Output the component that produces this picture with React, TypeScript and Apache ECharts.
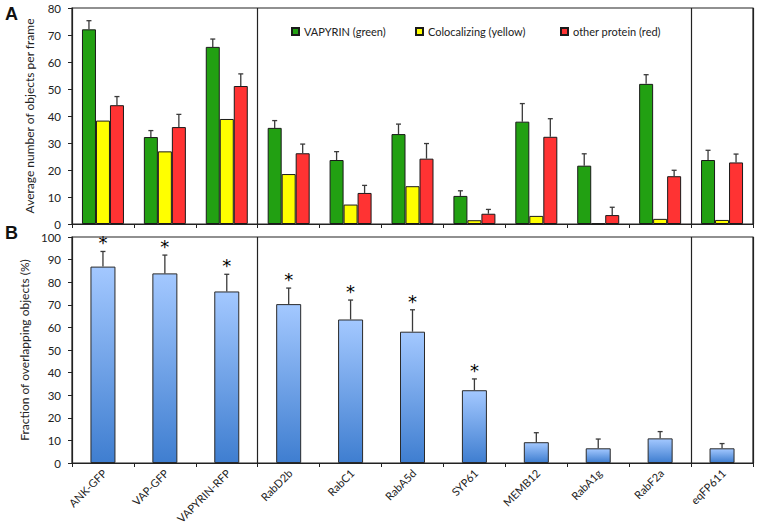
import React, { useEffect, useRef } from "react";
import * as echarts from "echarts";

const categories = ["ANK-GFP", "VAP-GFP", "VAPYRIN-RFP", "RabD2b", "RabC1", "RabA5d", "SYP61", "MEMB12", "RabA1g", "RabF2a", "eqFP611"];
const greenValues = [72.1, 32.2, 65.6, 35.6, 23.7, 33.3, 10.4, 37.9, 21.6, 51.9, 23.7];
const greenSd = [3.2, 2.4, 2.9, 2.7, 3.1, 3.7, 1.9, 6.7, 4.4, 3.4, 3.6];
const yellowValues = [38.3, 26.9, 38.9, 18.5, 7.2, 14.0, 1.4, 3.0, 0.2, 1.9, 1.5];
const redValues = [44.0, 35.9, 51.1, 26.2, 11.5, 24.2, 3.8, 32.3, 3.3, 17.7, 22.8];
const redSd = [3.2, 4.7, 4.5, 3.4, 2.8, 5.6, 1.6, 6.7, 2.9, 2.2, 3.1];
const fractionValues = [86.9, 83.9, 75.9, 70.3, 63.5, 58.1, 32.2, 9.2, 6.5, 10.9, 6.5];
const fractionSd = [6.7, 8.1, 7.6, 7.1, 8.6, 9.7, 5.0, 4.2, 4.1, 3.0, 2.1];
const significant = [true, true, true, true, true, true, true, false, false, false, false];
const seriesNames = ["VAPYRIN (green)", "Colocalizing (yellow)", "other protein (red)"];
const separatorBefore = [3, 10];

const FONT = "Lato";
const TEXT = "#222";
const AXIS = "#222";
const ERR = "#3a3a3a";
const BAR_W = 14;
const LABEL_SIZE = 11;

function errRender(offset: number, withStar: boolean) {
  return (params: any, api: any) => {
    const idx = api.value(0);
    const base = api.coord([idx, api.value(1)]);
    const top = api.coord([idx, api.value(2)]);
    const x = base[0] + offset;
    const children: any[] = [
      { type: "line", shape: { x1: x, y1: base[1], x2: x, y2: top[1] }, style: { stroke: ERR, lineWidth: 1.3 } },
      { type: "line", shape: { x1: x - 2.5, y1: top[1], x2: x + 2.5, y2: top[1] }, style: { stroke: ERR, lineWidth: 1.3 } },
    ];
    if (withStar && api.value(3) === 1) {
      children.push({
        type: "text",
        x: x,
        y: top[1] - 8.5,
        style: { text: "*", fontSize: 18, fontFamily: "DejaVu Sans", fill: "#000", align: "center", verticalAlign: "middle" },
      });
    }
    return { type: "group", children };
  };
}

export default function App() {
  const ref = useRef<HTMLDivElement>(null);
  useEffect(() => {
    document.body.style.margin = "0";
    const chart = echarts.init(ref.current!, null, { renderer: "svg" });

    const yAxisCommon = {
      type: "value",
      min: 0,
      nameLocation: "middle",
      nameGap: 37,
      nameTextStyle: { fontFamily: FONT, fontSize: 12, color: TEXT },
      axisLine: { show: true, lineStyle: { color: AXIS, width: 1.2 } },
      axisTick: { show: true, length: 4, lineStyle: { color: AXIS } },
      axisLabel: { fontFamily: FONT, fontSize: 11.5, color: TEXT, margin: 11 },
      splitLine: { show: false },
    };
    const xAxisCommon = {
      type: "category",
      data: categories,
      boundaryGap: true,
      axisLine: { show: true, lineStyle: { color: AXIS, width: 1.2 } },
      axisTick: { show: true, interval: 0, length: 4, lineStyle: { color: AXIS } },
      axisLabel: { show: false },
      splitLine: {
        show: true,
        interval: (index: number) => separatorBefore.indexOf(index) >= 0,
        lineStyle: { color: AXIS, width: 1.2 },
      },
    };

    const barBorder = { borderColor: "#1a1a1a", borderWidth: 1 };
    const colors = ["#22A012", "#FFFF00", "#FF3333"];
    const topValues = [greenValues, yellowValues, redValues];

    const legends = seriesNames.map((n, i) => ({
      data: [n],
      left: [286, 410, 555][i],
      top: 21,
      itemWidth: 7,
      itemHeight: 7,
      itemGap: 0,
      icon: "rect",
      textStyle: { fontFamily: FONT, fontSize: 11, color: TEXT },
    }));

    const panelLetters = [
      { type: "text", left: 5, top: 5, style: { text: "A", fontFamily: "Liberation Sans", fontWeight: "bold", fontSize: 18, fill: "#111" } },
      { type: "text", left: 5, top: 224, style: { text: "B", fontFamily: "Liberation Sans", fontWeight: "bold", fontSize: 18, fill: "#111" } },
    ];

    chart.setOption({
      animation: false,
      backgroundColor: "#fff",
      legend: legends,
      grid: [
        { left: 72, right: 5, top: 8, height: 216, show: true, borderColor: AXIS, borderWidth: 1.2, backgroundColor: "transparent" },
        { left: 72, right: 5, top: 237, height: 226, show: true, borderColor: AXIS, borderWidth: 1.2, backgroundColor: "transparent" },
      ],
      xAxis: [
        { ...xAxisCommon, gridIndex: 0 },
        { ...xAxisCommon, gridIndex: 1 },
      ],
      yAxis: [
        { ...yAxisCommon, gridIndex: 0, max: 80, interval: 10, name: "Average number of objects per frame" },
        { ...yAxisCommon, gridIndex: 1, max: 100, interval: 10, name: "Fraction of overlapping objects (%)" },
      ],
      graphic: panelLetters,
      series: [
        ...seriesNames.map((n, i) => ({
          name: n,
          type: "bar",
          xAxisIndex: 0,
          yAxisIndex: 0,
          barWidth: BAR_W,
          barGap: "0%",
          data: topValues[i],
          itemStyle: { color: colors[i], ...barBorder },
        })),
        {
          type: "custom",
          xAxisIndex: 0,
          yAxisIndex: 0,
          z: 5,
          renderItem: errRender(-BAR_W, false),
          encode: { x: 0, y: [1, 2] },
          data: greenValues.map((v, i) => [i, v, v + greenSd[i]]),
        },
        {
          type: "custom",
          xAxisIndex: 0,
          yAxisIndex: 0,
          z: 5,
          renderItem: errRender(BAR_W, false),
          encode: { x: 0, y: [1, 2] },
          data: redValues.map((v, i) => [i, v, v + redSd[i]]),
        },
        {
          name: "fraction",
          type: "bar",
          xAxisIndex: 1,
          yAxisIndex: 1,
          barWidth: 25,
          data: fractionValues,
          itemStyle: {
            color: new echarts.graphic.LinearGradient(0, 0, 0, 1, [
              { offset: 0, color: "#A3C8FF" },
              { offset: 1, color: "#3F7ED0" },
            ]),
            borderColor: "#2a2a2a",
            borderWidth: 1,
          },
        },
        {
          type: "custom",
          xAxisIndex: 1,
          yAxisIndex: 1,
          z: 5,
          renderItem: errRender(0, true),
          encode: { x: 0, y: [1, 2] },
          data: fractionValues.map((v, i) => [i, v, v + fractionSd[i], significant[i] ? 1 : 0]),
        },
      ],
    });

    // Rotated category labels, placed from the bottom axis' own scale
    const ctx = document.createElement("canvas").getContext("2d")!;
    ctx.font = `${LABEL_SIZE}px ${FONT}`;
    const r = Math.PI / 4;
    const c = Math.cos(r);
    const s = Math.sin(r);
    const h = LABEL_SIZE;
    const labelGraphics = categories.map((name, i) => {
      const p = chart.convertToPixel({ xAxisIndex: 1, yAxisIndex: 1 }, [i, 0]) as number[];
      const ax = p[0] + 1.5;
      const ay = p[1] + 8;
      const w = ctx.measureText(name).width;
      return {
        type: "text",
        x: ax - w * c - (h / 2) * s,
        y: ay + w * s - (h / 2) * c,
        rotation: r,
        style: { text: name, fontFamily: FONT, fontSize: LABEL_SIZE, fill: TEXT },
      };
    });
    chart.setOption({ graphic: [...panelLetters, ...labelGraphics] });

    return () => chart.dispose();
  }, []);
  return <div ref={ref} style={{ width: 758, height: 526 }} />;
}
